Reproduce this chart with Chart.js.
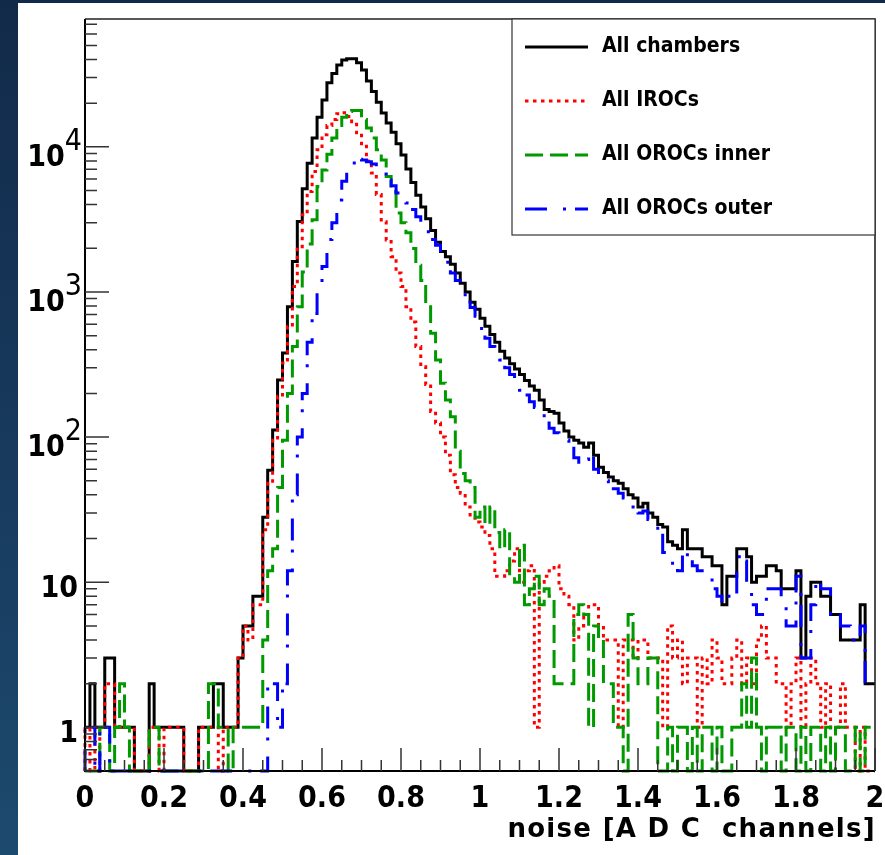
<!DOCTYPE html>
<html>
<head>
<meta charset="utf-8">
<script src="https://cdn.jsdelivr.net/npm/chart.js@4.4.1/dist/chart.umd.min.js"></script>
<style>
  html, body { margin: 0; padding: 0; }
  body {
    width: 885px; height: 855px; overflow: hidden; position: relative;
    background: linear-gradient(to bottom, #122a4a 0%, #17395c 50%, #1c4a6e 100%);
  }
  #panel { position: absolute; left: 18px; top: 3px; width: 867px; height: 852px; background: #ffffff; }
  canvas { display: block; }
</style>
</head>
<body>
<div id="panel"><canvas id="noise" width="867" height="852"></canvas></div>
<script>
// Histogram binning: 160 bins between 0 and 2 ADC channels
const xRange = [0, 2];
const nBins = 160;

// Bin contents (entries per bin)
const allChambers = [
  1,1,2,1,1,3,3,1,1,1,
  1,0,0,0,2,1,1,1,1,1,
  1,0,0,0,1,1,1,2,2,1,
  1,1,3,5,5,8,8,28,59,112,
  247,380,792,1620,3060,5150,7700,11500,16000,21000,
  27600,32000,36600,39700,40500,40500,37900,33900,28400,24100,
  20300,17100,14600,12600,10500,8800,7040,5680,4640,3850,
  3200,2650,2200,1900,1750,1550,1350,1150,1000,850,
  760,660,580,510,450,390,350,320,295,270,
  245,225,210,180,155,150,146,125,110,100,
  95,91,85,91,75,62,57,53,50,48,
  44,40,38,33,35,30,28,25,24,19,
  18,17,23,17,17,17,15,15,13,13,
  7,11,11,17,17,15,10,11,11,13,
  13,12,9,9,9,12,3,8,10,10,
  8,8,6,6,4,4,4,4,7,2
];
const allIROCs = [
  1,0,1,0,1,2,2,1,1,1,
  1,0,0,0,1,1,0,1,1,1,
  1,0,0,0,1,1,1,1,0,1,
  1,1,3,5,4,7,7,23,48,95,
  190,324,576,1090,2050,3400,4920,6760,9530,12100,
  14000,15400,16900,17200,16200,14900,12500,10500,8000,6600,
  4700,3050,2280,1750,1350,1090,792,620,420,305,
  230,150,125,100,75,55,45,41,33,28,
  26,24,21,17,11,11,12,14,17,10,
  12,13,1,10,11,12,13,9,8,7,
  4,5,6,7,7,5,4,4,4,1,
  4,4,3,4,4,3,3,3,1,5,
  3,4,2,3,3,1,3,2,4,3,
  2,2,3,4,2,3,2,4,5,3,
  3,2,2,1,2,3,1,2,3,2,
  1,2,1,1,2,1,1,0,1,0
];
const allOROCsInner = [
  0,0,0,0,1,1,0,1,2,1,
  0,0,0,0,1,1,0,0,0,0,
  0,0,0,0,0,0,2,2,1,1,
  0,1,1,1,1,1,1,4,12,17,
  45,95,200,420,792,1370,2140,3150,5330,6910,
  8900,11500,14000,16000,17500,17800,17800,15400,13500,11500,
  9550,8100,6240,4920,3500,3000,2560,1990,1530,1200,
  792,520,340,235,180,138,80,56,50,45,
  28,33,25,33,22,17,23,11,10,18,
  7,9,11,7,9,8,2,2,2,2,
  6,7,6,1,5,4,2,2,1,1,
  0,6,3,2,2,3,3,0,0,1,
  0,1,1,0,1,0,1,1,0,1,
  0,0,1,1,2,1,3,1,0,1,
  1,1,0,1,1,0,1,0,1,1,
  0,1,0,1,1,0,0,1,0,1
];
const allOROCsOuter = [
  0,1,1,0,1,1,0,0,0,0,
  0,0,0,0,0,0,0,0,0,0,
  0,0,0,0,0,0,0,0,0,0,
  0,0,0,0,0,0,0,0,2,2,
  1,2,12,40,100,200,450,710,1000,1500,
  2300,3000,4300,5800,7000,7750,8200,8100,7900,7600,
  7200,6500,5900,5400,4800,4500,4100,3700,3300,2950,
  2600,2300,2100,1800,1600,1350,1200,1080,920,780,
  680,560,480,420,380,340,300,270,250,210,
  195,175,160,140,125,115,107,104,95,88,
  72,64,70,75,60,53,50,46,44,41,
  38,36,33,30,31,27,25,22,16,15,
  13,12,17,15,13,12,11,11,9,8,
  7,8,8,15,14,10,7,6,6,9,
  9,9,7,5,5,11,3,3,7,10,
  9,9,6,6,5,5,4,4,5,2
];

const seriesNames = ['All chambers', 'All IROCs', 'All OROCs inner', 'All OROCs outer'];

// Axis ticks and labels
const xTickValues = [0, 0.2, 0.4, 0.6, 0.8, 1, 1.2, 1.4, 1.6, 1.8, 2];
const xTickLabels = ['0', '0.2', '0.4', '0.6', '0.8', '1', '1.2', '1.4', '1.6', '1.8', '2'];
const xMinorStep = 0.05;
const yTickValues = [1, 10, 100, 1000, 10000];
const yTickBase = ['1', '10', '10', '10', '10'];
const yTickExp = ['', '', '2', '3', '4'];
const yRange = [0.5, 76000];
const xTitle = 'noise [A D C  channels]';

// step-histogram points: one point per lower bin edge, plus the upper edge of the last bin.
// On the log axis an empty bin is drawn down on the axis floor.
function histPoints(counts) {
  const w = (xRange[1] - xRange[0]) / nBins;
  const floor = yRange[0];
  const pts = counts.map((c, i) => ({ x: xRange[0] + i * w, y: c > 0 ? c : floor }));
  pts.push({ x: xRange[1], y: pts[pts.length - 1].y });
  return pts;
}

const styles = [
  { color: '#000000', dash: [] },
  { color: '#ff0000', dash: [3.5, 4.5] },
  { color: '#009900', dash: [18, 7] },
  { color: '#0000ff', dash: [22, 16, 3, 9] }
];
const allSeries = [allChambers, allIROCs, allOROCsInner, allOROCsOuter];

const datasets = allSeries.map((s, k) => ({
  label: seriesNames[k],
  data: histPoints(s),
  borderColor: styles[k].color,
  borderWidth: 3,
  borderDash: styles[k].dash,
  borderCapStyle: 'butt',
  borderJoinStyle: 'miter',
  stepped: 'after',
  fill: false,
  pointRadius: 0,
  tension: 0,
  clip: 4,
  order: 4 - k
}));

const FONT_BOLD = '"DejaVu Sans Condensed", "DejaVu Sans", sans-serif';

const rootFrame = {
  id: 'rootFrame',
  afterDatasetsDraw(chart) {
    const { ctx, chartArea: a, scales: { x, y } } = chart;
    ctx.save();

    // frame
    ctx.strokeStyle = '#222';
    ctx.lineWidth = 1.6;
    ctx.beginPath();
    ctx.moveTo(a.left, a.top); ctx.lineTo(a.right, a.top); ctx.lineTo(a.right, a.bottom);
    ctx.stroke();
    ctx.strokeStyle = '#000';
    ctx.lineWidth = 2;
    ctx.beginPath();
    ctx.moveTo(a.left, a.top); ctx.lineTo(a.left, a.bottom); ctx.lineTo(a.right, a.bottom);
    ctx.stroke();

    // inward ticks
    ctx.strokeStyle = '#333';
    ctx.lineWidth = 1.5;
    ctx.beginPath();
    const nMinor = Math.round((xRange[1] - xRange[0]) / xMinorStep);
    for (let k = 0; k <= nMinor; k++) {
      const v = xRange[0] + k * xMinorStep;
      const px = x.getPixelForValue(v);
      const major = xTickValues.some(t => Math.abs(t - v) < 1e-6);
      ctx.moveTo(px, a.bottom);
      ctx.lineTo(px, a.bottom - (major ? 23 : 11));
    }
    for (let e = -1; e <= 4; e++) {
      for (let m = 1; m <= 9; m++) {
        const v = m * Math.pow(10, e);
        if (v < yRange[0] || v > yRange[1]) continue;
        const py = y.getPixelForValue(v);
        ctx.moveTo(a.left, py);
        ctx.lineTo(a.left + (m === 1 ? 24 : 12), py);
      }
    }
    ctx.stroke();

    // x tick labels
    ctx.fillStyle = '#000';
    ctx.font = 'bold 30px ' + FONT_BOLD;
    ctx.textAlign = 'center';
    ctx.textBaseline = 'alphabetic';
    xTickValues.forEach((v, i) => {
      ctx.fillText(xTickLabels[i], x.getPixelForValue(v), a.bottom + 36);
    });

    // y tick labels (10 with superscript exponent)
    const right = a.left - 3;
    yTickValues.forEach((v, i) => {
      const py = y.getPixelForValue(v);
      ctx.textAlign = 'left';
      if (yTickExp[i]) {
        ctx.font = '30px ' + FONT_BOLD;
        const ew = ctx.measureText(yTickExp[i]).width;
        ctx.font = 'bold 30px ' + FONT_BOLD;
        const bw = ctx.measureText(yTickBase[i]).width;
        const x0 = right - ew - bw;
        ctx.fillText(yTickBase[i], x0, py + 19);
        ctx.font = '30px ' + FONT_BOLD;
        ctx.fillText(yTickExp[i], x0 + bw, py + 3);
      } else {
        ctx.font = 'bold 30px ' + FONT_BOLD;
        ctx.textAlign = 'right';
        ctx.fillText(yTickBase[i], right - 4, py + 15);
      }
    });

    // axis title
    ctx.save();
    ctx.font = 'bold 26px "DejaVu Sans", sans-serif';
    ctx.letterSpacing = '1.3px';
    ctx.textAlign = 'right';
    ctx.fillText(xTitle, a.right + 1, 834);
    ctx.restore();

    // legend box
    const lx = 494, ly = a.top, lw = a.right - 494, lh = 216;
    ctx.fillStyle = '#fff';
    ctx.fillRect(lx, ly, lw, lh);
    ctx.strokeStyle = '#333';
    ctx.lineWidth = 1.2;
    ctx.strokeRect(lx, ly, lw, lh);
    chart.data.datasets.forEach((ds, k) => {
      const yy = ly + 28 + k * 54;
      ctx.save();
      ctx.strokeStyle = ds.borderColor;
      ctx.lineWidth = ds.borderWidth;
      ctx.setLineDash(ds.borderDash);
      ctx.beginPath();
      ctx.moveTo(lx + 13, yy);
      ctx.lineTo(lx + 76, yy);
      ctx.stroke();
      ctx.restore();
      ctx.fillStyle = '#000';
      ctx.font = 'bold 21px ' + FONT_BOLD;
      ctx.textAlign = 'left';
      ctx.textBaseline = 'middle';
      ctx.fillText(ds.label, lx + 90, yy);
    });

    ctx.restore();
  }
};

new Chart(document.getElementById('noise'), {
  type: 'line',
  data: { datasets },
  options: {
    responsive: false,
    animation: false,
    layout: { padding: { left: 67, top: 16, right: 10, bottom: 84 } },
    plugins: { legend: { display: false }, tooltip: { enabled: false } },
    elements: { point: { radius: 0 } },
    scales: {
      x: {
        type: 'linear', min: xRange[0], max: xRange[1],
        grid: { display: false, drawTicks: false }, border: { display: false },
        ticks: { display: false },
        afterFit(s) { s.height = 0; }
      },
      y: {
        type: 'logarithmic', min: yRange[0], max: yRange[1],
        grid: { display: false, drawTicks: false }, border: { display: false },
        ticks: { display: false },
        afterFit(s) { s.width = 0; }
      }
    }
  },
  plugins: [rootFrame]
});
</script>
</body>
</html>
